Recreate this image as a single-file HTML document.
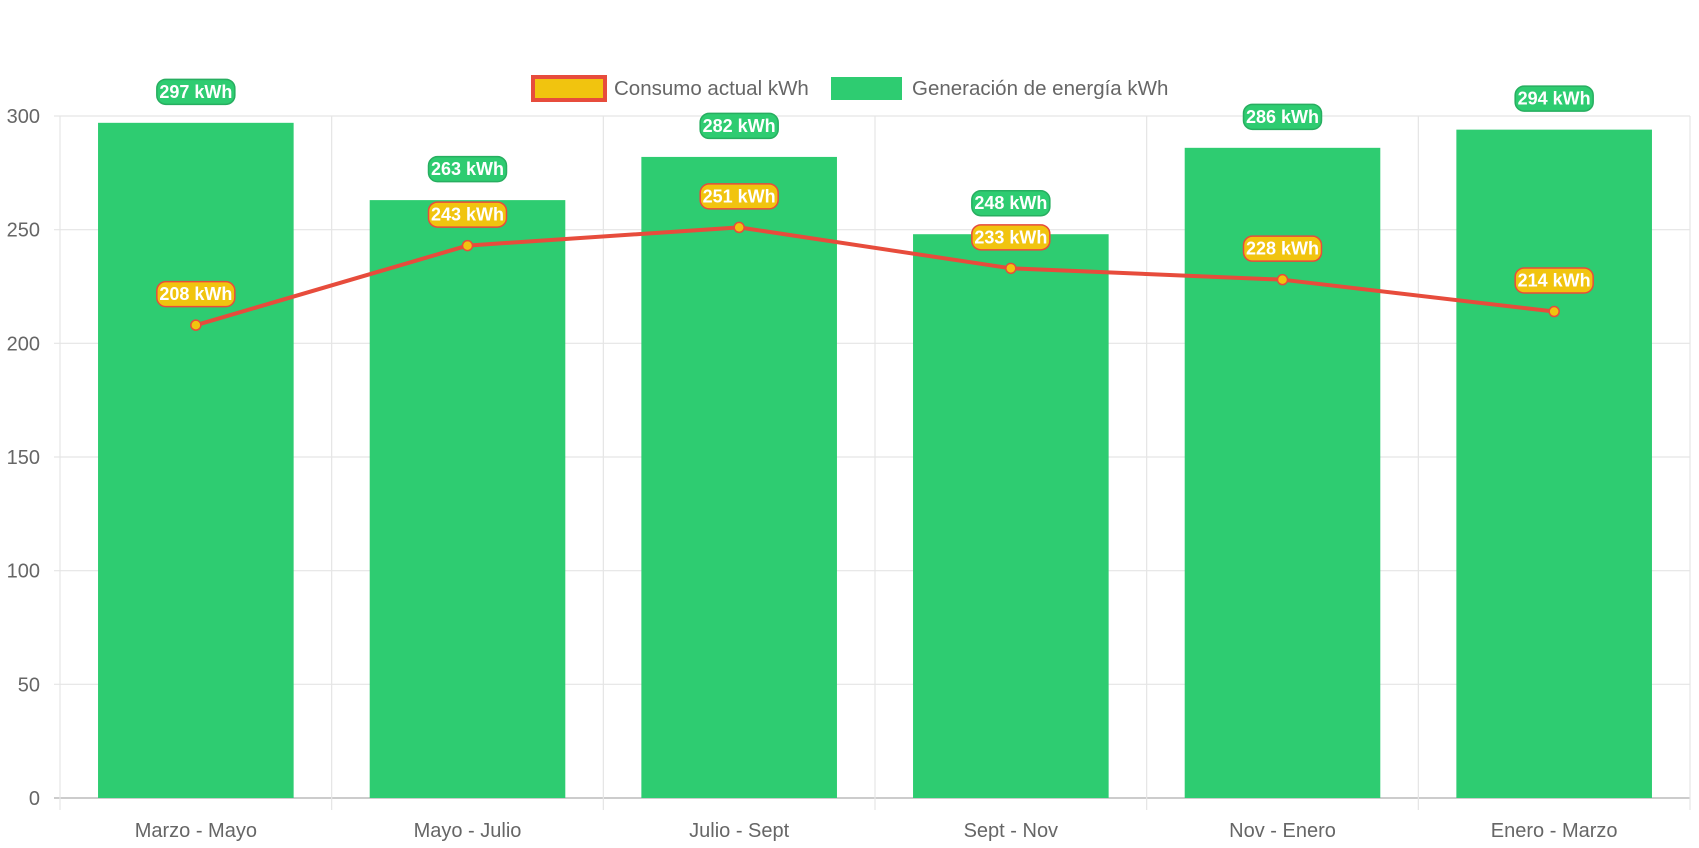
<!DOCTYPE html>
<html><head><meta charset="utf-8"><style>
html,body{margin:0;padding:0;background:#fff;}
svg{display:block;font-family:"Liberation Sans",Arial,sans-serif;}
</style></head><body>
<svg id="chart" width="1699" height="848" viewBox="0 0 1699 848">
<g id="grid"></g>
<g id="bars"></g>
<g id="line"></g>
<g id="labels"></g>
<g id="legend">
 <g>
  <rect x="533" y="77" width="72" height="23" fill="#f1c40f" stroke="#e74c3c" stroke-width="4"/>
  <text x="614" y="95" font-size="20.5" fill="#666">Consumo actual kWh</text>
 </g>
 <g>
  <rect x="831" y="77" width="71" height="23" fill="#2ecc71"/>
  <text x="912" y="95" font-size="20.5" fill="#666">Generación de energía kWh</text>
 </g>
</g>
</svg>
<script>
const categories = ["Marzo - Mayo","Mayo - Julio","Julio - Sept","Sept - Nov","Nov - Enero","Enero - Marzo"];
const generation = [297,263,282,248,286,294];
const consumption = [208,243,251,233,228,214];
const yTicks = [0,50,100,150,200,250,300];

const NS="http://www.w3.org/2000/svg";
const L=60,R=1690,T=116,B=798,YMAX=300;
const cw=(R-L)/categories.length;
const x=i=>L+cw*(i+0.5);
const y=v=>B-(v/YMAX)*(B-T);
function mk(tag,attrs,parent){const e=document.createElementNS(NS,tag);for(const k in attrs)e.setAttribute(k,attrs[k]);parent.appendChild(e);return e;}
const grid=document.getElementById('grid'),bars=document.getElementById('bars'),line=document.getElementById('line'),labels=document.getElementById('labels');

yTicks.forEach(t=>{
  const g=mk('line',{x1:L-6,x2:R,y1:y(t),y2:y(t),stroke:t===0?'#ccc':'#e5e5e5','stroke-width':t===0?2:1.2},grid);
  
  
  const tx=mk('text',{x:40,y:y(t)+7,'text-anchor':'end','font-size':20,fill:'#666'},grid);
  tx.textContent=t;
  
  
});
for(let i=0;i<=categories.length;i++){
  const gx=L+cw*i;
  const v=mk('line',{x1:gx,x2:gx,y1:T,y2:B+12,stroke:'#e5e5e5','stroke-width':1.2},grid);
  
  
}
categories.forEach((c,i)=>{
  const tx=mk('text',{x:x(i),y:837,'text-anchor':'middle','font-size':20,fill:'#666'},grid);
  tx.textContent=c;
  
  
});
const bw=cw*0.72;
generation.forEach((v,i)=>{
  const r=mk('rect',{x:x(i)-bw/2,y:y(v),width:bw,height:B-y(v),fill:'#2ecc71'},bars);
  
  
});
let d='';
consumption.forEach((v,i)=>{d+=(i?'L':'M')+x(i)+','+y(v);});
const p=mk('path',{d:d,fill:'none',stroke:'#e74c3c','stroke-width':4,'stroke-linejoin':'round'},line);


consumption.forEach((v,i)=>{
  const c=mk('circle',{cx:x(i),cy:y(v),r:5,fill:'#f1c40f',stroke:'#e74c3c','stroke-width':1.5},line);
  
  
});
function badge(cx,cy,txt,fill,stroke){
  const g=mk('g',{},labels);
  const w=78,h=25;
  mk('rect',{x:cx-w/2,y:cy-h/2,width:w,height:h,rx:9,fill:fill,stroke:stroke,'stroke-width':1.5},g);
  const t=mk('text',{x:cx,y:cy+6,'text-anchor':'middle','font-size':18,'font-weight':'bold',fill:'#fff'},g);
  t.textContent=txt;
  return g;
}
generation.forEach((v,i)=>{
  const g=badge(x(i),y(v)-31,v+' kWh','#2ecc71','#27ae60');
  
  
});
consumption.forEach((v,i)=>{
  const g=badge(x(i),y(v)-31,v+' kWh','#f1c40f','#e74c3c');
  
  
});
</script>
</body></html>
